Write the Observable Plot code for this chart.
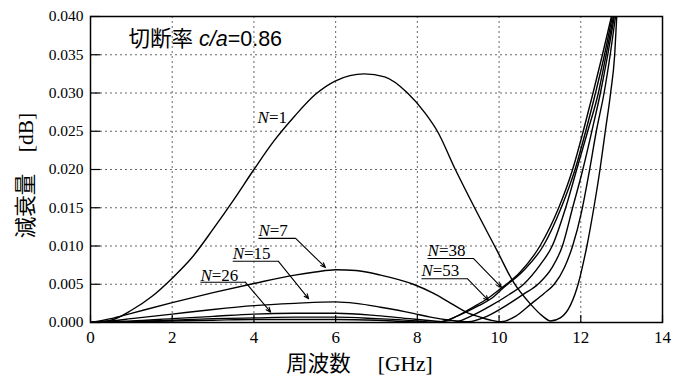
<!DOCTYPE html>
<html><head><meta charset="utf-8">
<script src="https://cdn.jsdelivr.net/npm/d3@7"></script>
<script src="https://cdn.jsdelivr.net/npm/@observablehq/plot@0.6"></script>
<style>body{margin:0;background:#fff;}</style>
</head><body><div id="chart"></div>
<script>
// ---- data ----
const xTicks = [0, 2, 4, 6, 8, 10, 12, 14];
const yTicks = [0, 0.005, 0.010, 0.015, 0.020, 0.025, 0.030, 0.035, 0.040];

const N1_f = [0, 0.5, 1, 1.5, 2, 2.5, 3, 3.5, 4, 4.5, 5, 5.5, 6, 6.7, 7.2, 7.76, 8.2, 8.49, 8.93, 9.42, 9.95, 10.36, 10.77, 11.05, 11.26, 11.5, 11.75, 11.95, 12.07, 12.15, 12.32, 12.47, 12.6, 12.73, 12.83, 12.88];
const N1_a = [0, 0.0003, 0.0016, 0.0034, 0.0058, 0.0086, 0.0122, 0.0160, 0.0200, 0.0238, 0.0270, 0.0298, 0.0316, 0.0325, 0.0321, 0.0300, 0.0273, 0.0250, 0.0200, 0.0148, 0.0094, 0.0052, 0.0024, 0.0009, 0.0002, 0.0006, 0.0023, 0.0053, 0.0080, 0.0100, 0.0150, 0.0200, 0.0250, 0.0300, 0.0350, 0.0400];

const N7_f = [0, 0.5, 1, 2, 3, 4, 5, 5.5, 6, 6.5, 7.1, 7.9, 8.4, 8.73, 9.22, 9.54, 9.8, 10.05, 10.4, 10.8, 11.1, 11.35, 11.6, 11.8, 12.02, 12.2, 12.38, 12.57, 12.72, 12.85];
const N7_a = [0, 0.0005, 0.0012, 0.0026, 0.0039, 0.0051, 0.0062, 0.0066, 0.0069, 0.0068, 0.0062, 0.0050, 0.0038, 0.0028, 0.0013, 0.0007, 0.0003, 0.0001, 0.0008, 0.0025, 0.0038, 0.0050, 0.0072, 0.0100, 0.0145, 0.0195, 0.0250, 0.0300, 0.0350, 0.0400];

const N15_f = [0, 0.5, 1, 2, 3, 4, 5, 6, 6.5, 7.1, 7.9, 8.32, 8.8, 9.25, 9.7, 10.2, 10.6, 10.95, 11.3, 11.55, 11.8, 12.05, 12.27, 12.48, 12.66, 12.82];
const N15_a = [0, 0.0002, 0.0005, 0.0011, 0.0017, 0.0022, 0.0025, 0.0027, 0.0025, 0.0020, 0.0012, 0.0007, 0.0003, 0.0001, 0.0008, 0.0023, 0.0037, 0.0050, 0.0072, 0.0100, 0.0150, 0.0200, 0.0250, 0.0300, 0.0350, 0.0400];

const N26_f = [0, 0.5, 1, 2, 3, 4, 5, 6, 7, 7.8, 8.4, 8.85, 9.3, 9.8, 10.2, 10.6, 11.0, 11.3, 11.63, 11.9, 12.17, 12.43, 12.62, 12.8];
const N26_a = [0, 0.0001, 0.0002, 0.0005, 0.0008, 0.0011, 0.0012, 0.0012, 0.0009, 0.0005, 0.0002, 0.0000, 0.0008, 0.0022, 0.0035, 0.0050, 0.0075, 0.0100, 0.0150, 0.0200, 0.0250, 0.0300, 0.0350, 0.0400];

const N38_f = [0, 1, 2, 3, 4, 5, 6, 7, 8, 8.5, 9.0, 9.5, 9.8, 10.1, 10.6, 11.08, 11.52, 11.86, 12.12, 12.36, 12.58, 12.77];
const N38_a = [0, 0.0001, 0.0003, 0.0005, 0.0006, 0.0007, 0.0007, 0.0005, 0.0002, 0.0000, 0.0009, 0.0022, 0.0031, 0.0045, 0.0068, 0.0100, 0.0150, 0.0200, 0.0250, 0.0300, 0.0350, 0.0400];

const N53_f = [0, 1, 2, 3, 4, 5, 6, 7, 7.8, 8.4, 8.73, 9.1, 9.4, 9.71, 10.03, 10.52, 11.0, 11.46, 11.8, 12.06, 12.3, 12.53, 12.75];
const N53_a = [0, 0.0001, 0.0002, 0.0003, 0.0004, 0.0004, 0.0004, 0.0003, 0.0001, 0.0000, 0.0003, 0.0012, 0.0021, 0.0031, 0.0044, 0.0066, 0.0100, 0.0150, 0.0200, 0.0250, 0.0300, 0.0350, 0.0400];

// annotation labels (data coordinates)
const labelText = ["N=1", "N=7", "N=15", "N=26", "N=38", "N=53"];
const labelX    = [4.09, 4.11, 3.48, 2.69, 8.25, 8.10];
const labelY    = [0.0268, 0.0120, 0.0090, 0.0061, 0.0094, 0.0068];
// underline + arrow (N=7 .. N=53)
const lineX0 = [4.11, 3.48, 2.69, 8.25, 8.10];
const lineX1 = [5.02, 4.60, 3.79, 9.37, 9.23];
const lineY  = [0.0110, 0.0080, 0.00527, 0.00837, 0.00571];
const tipX   = [5.75, 5.34, 4.41, 10.06, 9.74];
const tipY   = [0.0072, 0.0031, 0.00135, 0.00458, 0.00288];

const titleText = "切断率 c/a=0.86";
const titlePos = [0.93, 0.0371];
const xLabel = "周波数　 [GHz]";
const yLabel = "減衰量　[dB]";

// ---- build tables ----
const series = [
  {N: 1, f: N1_f, a: N1_a}, {N: 7, f: N7_f, a: N7_a}, {N: 15, f: N15_f, a: N15_a},
  {N: 26, f: N26_f, a: N26_a}, {N: 38, f: N38_f, a: N38_a}, {N: 53, f: N53_f, a: N53_a}
];
const rows = series.flatMap(s => s.f.map((f, i) => ({N: s.N, f, a: s.a[i]})));
const labels = labelText.map((t, i) => ({t, x: labelX[i], y: labelY[i]}));
const leaders = lineX0.map((x0, i) => ({x0, x1: lineX1[i], y: lineY[i], tx: tipX[i], ty: tipY[i]}));

const serif = "'Liberation Serif', 'Noto Sans CJK JP', serif";
const sans = "'Liberation Sans', 'Noto Sans CJK JP', sans-serif";

const plot = Plot.plot({
  width: 680, height: 380,
  marginLeft: 90, marginRight: 18, marginTop: 16, marginBottom: 58,
  style: {fontFamily: serif, fontSize: "15px", background: "#fff", color: "#000"},
  x: {domain: [0, 14]},
  y: {domain: [0, 0.04]},
  marks: [
    Plot.gridX(xTicks.slice(1, -1), {stroke: "#000", strokeOpacity: 0.75, strokeWidth: 0.8, strokeDasharray: "2,3"}),
    Plot.gridY(yTicks.slice(1, -1), {stroke: "#000", strokeOpacity: 0.75, strokeWidth: 0.8, strokeDasharray: "2,3"}),
    Plot.ruleX(xTicks, {y1: 0, y2: 0.0009, stroke: "#000", strokeWidth: 1.2}),
    Plot.ruleY(yTicks, {x1: 0, x2: 0.25, stroke: "#000", strokeWidth: 1.2}),
    Plot.axisX(xTicks, {tickSize: 0, tickPadding: 8, fontSize: 17, label: null}),
    Plot.axisY(yTicks, {tickSize: 0, tickPadding: 7, fontSize: 15.5, tickFormat: d3.format(".3f"), label: null}),
    Plot.line(rows, {x: "f", y: "a", z: "N", curve: "monotone-x", stroke: "#000", strokeWidth: 1.4, clip: true}),
    Plot.frame({stroke: "#000", strokeWidth: 1.5}),
    Plot.link(leaders, {x1: "x0", x2: "x1", y1: "y", y2: "y", stroke: "#000", strokeWidth: 1.1}),
    Plot.arrow(leaders, {x1: "x1", y1: "y", x2: "tx", y2: "ty", stroke: "#000", strokeWidth: 1.1, headLength: 7, headAngle: 45}),
    Plot.text(labels, {x: "x", y: "y", text: "t", textAnchor: "start", fontSize: 17, fontFamily: serif}),
    Plot.text([titleText], {x: () => titlePos[0], y: () => titlePos[1], text: d => d, textAnchor: "start", fontSize: 21.5, fontFamily: sans}),
    Plot.text([xLabel], {frameAnchor: "bottom", text: d => d, textAnchor: "middle", lineAnchor: "middle", dx: -17, dy: 42, fontSize: 21.5, fontFamily: serif}),
    Plot.text([yLabel], {frameAnchor: "left", text: d => d, textAnchor: "middle", lineAnchor: "middle", dx: -64, dy: 6, rotate: -90, fontSize: 21.5, fontFamily: serif})
  ]
});

// italic variables
d3.select(plot).selectAll("text").each(function() {
  const t = this.textContent;
  const sel = d3.select(this);
  if (/^N=\d+$/.test(t)) {
    this.textContent = "";
    sel.append("tspan").attr("font-style", "italic").text("N");
    sel.append("tspan").text(t.slice(1));
  } else if (t === titleText) {
    this.textContent = "";
    sel.append("tspan").text("切断率 ");
    sel.append("tspan").attr("font-style", "italic").text("c/a");
    sel.append("tspan").text("=0.86");
  }
});

document.getElementById("chart").append(plot);
</script>
</body></html>
